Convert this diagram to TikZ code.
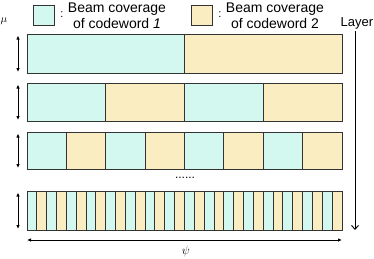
\documentclass[tikz,border=0pt]{standalone}
\usepackage{fontspec}
\setmainfont{Liberation Sans}
\usetikzlibrary{arrows.meta}
\definecolor{cwA}{HTML}{D2F8EF}
\definecolor{cwB}{HTML}{FBEDC2}
\definecolor{edge}{HTML}{333333}
\begin{document}
\begin{tikzpicture}[x=1pt,y=-1pt,
  seg/.style={draw=edge,line width=1pt},
  dim/.style={draw=black,line width=0.9pt,{Latex[length=4pt,width=3.5pt]}-{Latex[length=4pt,width=3.5pt]}},
  lbl/.style={font=\fontsize{14}{16}\selectfont,align=center,inner sep=0pt}]
\useasboundingbox (0,0) rectangle (374,258);
% legend
\node[seg,fill=cwA,minimum width=21pt,minimum height=20pt,inner sep=0pt] (leg1) at (43.5,15) {};
\node[font=\fontsize{11}{12}\selectfont,inner sep=0pt] (col1) at (62,15) {:};
\node[lbl] (txt1) at (117,16) {Beam coverage\\of codeword \textit{1}};
\node[seg,fill=cwB,minimum width=21pt,minimum height=20pt,inner sep=0pt] (leg2) at (201.5,15) {};
\node[font=\fontsize{11}{12}\selectfont,inner sep=0pt] (col2) at (220,15) {:};
\node[lbl] (txt2) at (275,16) {Beam coverage\\of codeword 2};
\node[font=\fontsize{13}{14}\selectfont,inner sep=0pt] (layer) at (357,23) {Layer};
% bars
\foreach \n/\top/\bot in {2/34/73,4/83/121,8/132/169,32/191/230}{
  \pgfmathsetmacro{\w}{315/\n}
  \fill[cwB] (27,\top) rectangle (342,\bot);
  \pgfmathtruncatemacro{\half}{\n/2}
  \foreach \i in {1,...,\half}{
    \pgfmathsetmacro{\xa}{27+(2*\i-2)*\w}
    \pgfmathsetmacro{\xb}{27+(2*\i-1)*\w}
    \fill[cwA] (\xa,\top) rectangle (\xb,\bot);
  }
  \foreach \i in {1,...,\n}{
    \pgfmathsetmacro{\xa}{27+\i*\w}
    \draw[seg] (\xa,\top) -- (\xa,\bot);
  }
  \draw[seg] (27,\top) rectangle (342,\bot);
  \coordinate (t\n) at (18,\top+1.5);
  \coordinate (b\n) at (18,\bot-1);
  \draw[dim] (t\n) -- (b\n);
}
\node[font=\fontsize{11}{12}\selectfont,inner sep=0pt] (mu) at (4,21) {$\mu$};
% dots
\node[inner sep=0pt,font=\fontsize{12}{12}\selectfont] (dots) at (185,178) {......};
% psi
\coordinate (pl) at (27,240);
\coordinate (pr) at (342,240);
\draw[dim] (pl) -- (pr);
\node[inner sep=0pt,font=\fontsize{12}{12}\selectfont] (psi) at (186,251) {$\psi$};
% layer arrow
\coordinate (la) at (355,31);
\coordinate (lb) at (355,230);
\draw[line width=0.9pt,-{Straight Barb[length=4pt,width=7pt]}] (la) -- (lb);
\end{tikzpicture}
\end{document}
